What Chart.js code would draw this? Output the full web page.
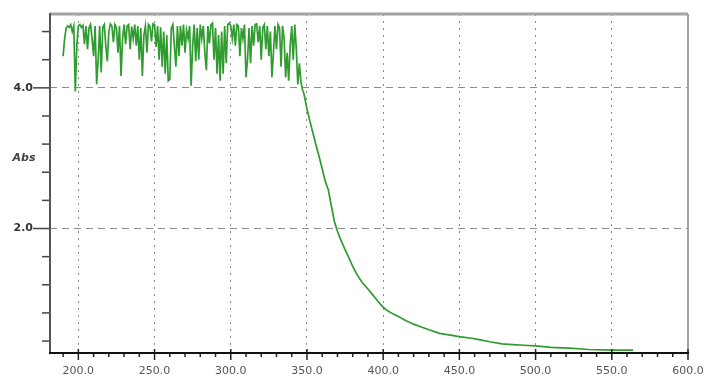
<!DOCTYPE html>
<html lang="en">
<head>
    <meta charset="UTF-8">
    <title>Absorbance Spectrum</title>
    <script src="https://cdn.jsdelivr.net/npm/chart.js"></script>
    <style>
        body { margin: 0; background: #fff; }
    </style>
</head>
<body>
    <canvas id="specChart" width="711" height="381"></canvas>

    <script>
        // wavelength (nm) and absorbance
        const wavelengths = [
            190, 191, 192, 193, 194, 195, 196, 197, 198, 199,
            200, 201, 202, 203, 204, 205, 206, 207, 208, 209,
            210, 211, 212, 213, 214, 215, 216, 217, 218, 219,
            220, 221, 222, 223, 224, 225, 226, 227, 228, 229,
            230, 231, 232, 233, 234, 235, 236, 237, 238, 239,
            240, 241, 242, 243, 244, 245, 246, 247, 248, 249,
            250, 251, 252, 253, 254, 255, 256, 257, 258, 259,
            260, 261, 262, 263, 264, 265, 266, 267, 268, 269,
            270, 271, 272, 273, 274, 275, 276, 277, 278, 279,
            280, 281, 282, 283, 284, 285, 286, 287, 288, 289,
            290, 291, 292, 293, 294, 295, 296, 297, 298, 299,
            300, 301, 302, 303, 304, 305, 306, 307, 308, 309,
            310, 311, 312, 313, 314, 315, 316, 317, 318, 319,
            320, 321, 322, 323, 324, 325, 326, 327, 328, 329,
            330, 331, 332, 333, 334, 335, 336, 337, 338, 339,
            340, 341, 342, 343, 344, 345, 346, 347,
            348, 350, 352, 354, 356, 358, 360, 362, 364, 366,
            368, 370, 372, 375, 378, 380, 383, 386, 390, 393,
            396, 400, 403, 406, 410, 415, 420, 425, 430, 437,
            445, 451, 458, 463, 470, 478, 485, 492, 500, 510,
            522, 535, 550, 564
        ];
        const absorbance = [
            4.45, 4.70, 4.85, 4.88, 4.86, 4.90, 4.80, 4.88, 3.95, 4.60,
            4.88, 4.90, 4.86, 4.89, 4.62, 4.88, 4.55, 4.85, 4.90, 4.70,
            4.45, 4.88, 4.05, 4.40, 4.88, 4.22, 4.86, 4.90, 4.60, 4.38,
            4.80, 4.91, 4.88, 4.65, 4.90, 4.85, 4.50, 4.88, 4.17, 4.70,
            4.90, 4.62, 4.88, 4.90, 4.55, 4.87, 4.70, 4.90, 4.60, 4.88,
            4.40, 4.85, 4.17, 4.75, 4.88, 4.50, 4.90, 4.87, 4.66, 4.91,
            4.90, 4.58, 4.88, 4.40, 4.86, 4.30, 4.80, 4.20, 4.75, 4.10,
            4.12, 4.85, 4.90, 4.60, 4.30, 4.88, 4.45, 4.88, 4.60, 4.90,
            4.50, 4.82, 4.70, 4.88, 4.03, 4.60, 4.90, 4.38, 4.85, 4.40,
            4.90, 4.70, 4.88, 4.50, 4.25, 4.88, 4.63, 4.90, 4.92, 4.40,
            4.85, 4.20, 4.75, 4.10, 4.80, 4.20, 4.88, 4.35, 4.90, 4.92,
            4.88, 4.70, 4.90, 4.60, 4.90, 4.88, 4.45, 4.85, 4.70, 4.90,
            4.15, 4.40, 4.85, 4.35, 4.88, 4.60, 4.90, 4.91, 4.65, 4.88,
            4.40, 4.86, 4.90, 4.55, 4.88, 4.45, 4.80, 4.15, 4.50, 4.88,
            4.55, 4.90, 4.85, 4.30, 4.88, 4.70, 4.15, 4.50, 4.10, 4.60,
            4.88, 4.40, 4.90, 4.55, 4.05, 4.35, 4.10, 3.98,
            3.92, 3.70, 3.52, 3.35, 3.18, 3.02, 2.85, 2.67, 2.55, 2.32,
            2.10, 1.96, 1.85, 1.70, 1.56, 1.46, 1.34, 1.24, 1.14, 1.06,
            0.98, 0.88, 0.83, 0.79, 0.75, 0.69, 0.64, 0.60, 0.56, 0.51,
            0.48, 0.46, 0.44, 0.42, 0.39, 0.36, 0.35, 0.34, 0.33, 0.31,
            0.30, 0.28, 0.27, 0.27
        ];

        // axis ticks
        const xMajorTicks = [200, 250, 300, 350, 400, 450, 500, 550, 600];
        const xMinorTicks = [190, 210, 220, 230, 240, 260, 270, 280, 290,
            310, 320, 330, 340, 360, 370, 380, 390, 410, 420, 430, 440,
            460, 470, 480, 490, 510, 520, 530, 540, 560, 570, 580, 590];
        const yMajorTicks = [2.0, 4.0];
        const yMinorTicks = [0.4, 0.8, 1.2, 1.6, 2.4, 2.8, 3.2, 3.6, 4.4, 4.8];
        const yAxisTitle = 'Abs';

        // tick marks, frame and y title
        const frameDecor = {
            id: 'frameDecor',
            afterDraw(chart) {
                const ctx = chart.ctx;
                const area = chart.chartArea;
                const xs = chart.scales.x;
                const ys = chart.scales.y;
                ctx.save();

                // top + right frame (gray)
                ctx.strokeStyle = '#a3a3a3';
                ctx.lineWidth = 3;
                ctx.beginPath();
                ctx.moveTo(area.left, area.top);
                ctx.lineTo(area.right, area.top);
                ctx.stroke();
                ctx.lineWidth = 2;
                ctx.beginPath();
                ctx.moveTo(area.right, area.top);
                ctx.lineTo(area.right, area.bottom);
                ctx.stroke();

                // x ticks
                ctx.strokeStyle = '#222';
                ctx.lineWidth = 1.5;
                xMajorTicks.forEach(v => {
                    const px = xs.getPixelForValue(v);
                    ctx.beginPath();
                    ctx.moveTo(px, area.bottom - 4);
                    ctx.lineTo(px, area.bottom + 7);
                    ctx.stroke();
                });
                xMinorTicks.forEach(v => {
                    const px = xs.getPixelForValue(v);
                    ctx.beginPath();
                    ctx.moveTo(px, area.bottom - 1);
                    ctx.lineTo(px, area.bottom + 4);
                    ctx.stroke();
                });

                // y ticks
                ctx.strokeStyle = '#444';
                yMajorTicks.forEach(v => {
                    const py = ys.getPixelForValue(v);
                    ctx.beginPath();
                    ctx.moveTo(area.left - 17, py);
                    ctx.lineTo(area.left, py);
                    ctx.stroke();
                });
                yMinorTicks.forEach(v => {
                    const py = ys.getPixelForValue(v);
                    ctx.beginPath();
                    ctx.moveTo(area.left - 8, py);
                    ctx.lineTo(area.left, py);
                    ctx.stroke();
                });

                // axis lines
                ctx.strokeStyle = '#555';
                ctx.lineWidth = 2;
                ctx.beginPath();
                ctx.moveTo(area.left, area.top - 1);
                ctx.lineTo(area.left, area.bottom);
                ctx.stroke();
                ctx.strokeStyle = '#111';
                ctx.beginPath();
                ctx.moveTo(area.left - 1, area.bottom);
                ctx.lineTo(area.right + 1, area.bottom);
                ctx.stroke();

                // y title
                ctx.fillStyle = '#444';
                ctx.font = 'italic bold 11px "DejaVu Sans"';
                ctx.textAlign = 'center';
                ctx.textBaseline = 'middle';
                ctx.fillText(yAxisTitle, 24, 158);
                ctx.restore();
            }
        };

        const ctx = document.getElementById('specChart').getContext('2d');
        const specChart = new Chart(ctx, {
            type: 'line',
            data: {
                datasets: [{
                    label: 'Abs',
                    data: wavelengths.map((w, i) => ({ x: w, y: absorbance[i] })),
                    borderColor: 'rgb(48, 156, 48)',
                    borderWidth: 1.7,
                    pointRadius: 0,
                    tension: 0,
                    fill: false
                }]
            },
            options: {
                responsive: false,
                animation: false,
                layout: { padding: { top: 14, right: 23, bottom: 0, left: 0 } },
                plugins: {
                    legend: { display: false },
                    tooltip: { enabled: false }
                },
                scales: {
                    x: {
                        type: 'linear',
                        min: 181.4,
                        max: 600,
                        afterBuildTicks: s => { s.ticks = xMajorTicks.map(v => ({ value: v })); },
                        afterFit: s => { s.height = 28; s.paddingLeft = 0; s.paddingRight = 0; },
                        grid: { color: '#8c8c8c', lineWidth: 1, drawTicks: false },
                        border: { display: false, dash: [2, 5] },
                        ticks: {
                            callback: v => v.toFixed(1),
                            color: '#555',
                            font: { family: 'DejaVu Sans', size: 11 },
                            padding: 12,
                            maxRotation: 0,
                            autoSkip: false
                        }
                    },
                    y: {
                        min: 0.23,
                        max: 5.05,
                        afterBuildTicks: s => { s.ticks = yMajorTicks.map(v => ({ value: v })); },
                        afterFit: s => { s.width = 50; s.paddingTop = 0; s.paddingBottom = 0; },
                        grid: { color: '#8c8c8c', lineWidth: 1, drawTicks: false },
                        border: { display: false, dash: [7, 5] },
                        ticks: {
                            callback: v => v.toFixed(1),
                            color: '#333',
                            font: { family: 'DejaVu Sans', size: 11, weight: 'bold' },
                            padding: 17
                        }
                    }
                }
            },
            plugins: [frameDecor]
        });
    </script>
</body>
</html>
